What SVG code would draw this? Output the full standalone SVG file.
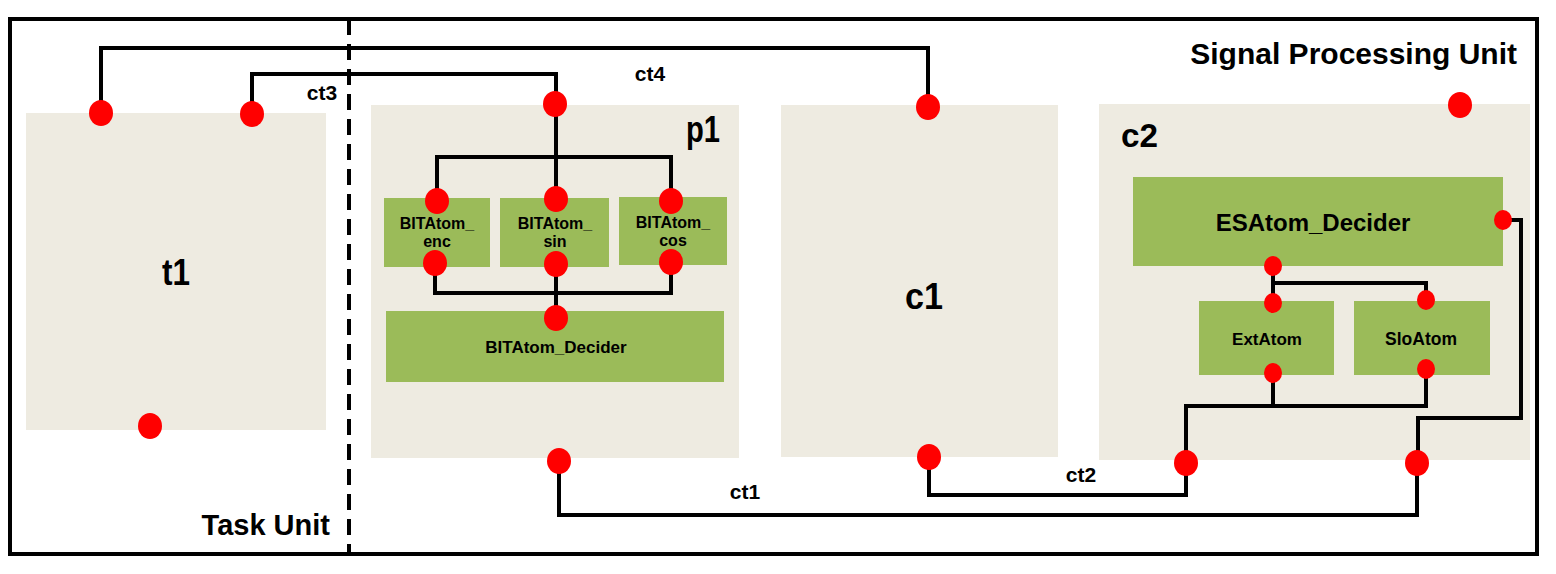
<svg xmlns="http://www.w3.org/2000/svg" width="1556" height="574" viewBox="0 0 1556 574">
<style>
.unit{fill:#EEEBE1}
.atom{fill:#9BBB59}
.port{fill:#FF0000}
.wire{fill:none;stroke:#000;stroke-width:4;stroke-linejoin:miter}
.t{font-family:"Liberation Sans",Arial,sans-serif;font-weight:bold;fill:#000}
.lbl{font-size:21px}
.big{font-size:36px}
.sub{font-size:16px}
</style>
<rect x="0" y="0" width="1556" height="574" fill="#fff"/>
<g id="frame">
<rect x="10" y="19" width="1527" height="535" fill="none" stroke="#000" stroke-width="4"/>
<line x1="349" y1="19" x2="349" y2="554" stroke="#000" stroke-width="4" stroke-dasharray="16,9"/>
<text class="t" x="1517" y="64" font-size="30" text-anchor="end">Signal Processing Unit</text>
<text class="t" x="330" y="535" font-size="29" text-anchor="end">Task Unit</text>
</g>
<g id="t1">
<rect class="unit" x="26" y="113" width="300" height="317"/>
<text class="t big" x="162" y="285" textLength="28" lengthAdjust="spacingAndGlyphs">t1</text>
</g>
<g id="p1">
<rect class="unit" x="371" y="105" width="368" height="353"/>
<text class="t big" x="686" y="142" textLength="34" lengthAdjust="spacingAndGlyphs">p1</text>
<g id="BITAtom_enc">
<rect class="atom" x="384" y="198" width="106" height="69"/>
<text class="t sub" x="437" y="229" text-anchor="middle">BITAtom_</text>
<text class="t sub" x="437" y="247" text-anchor="middle">enc</text>
</g>
<g id="BITAtom_sin">
<rect class="atom" x="500" y="198" width="109" height="69"/>
<text class="t sub" x="555" y="229" text-anchor="middle">BITAtom_</text>
<text class="t sub" x="555" y="247" text-anchor="middle">sin</text>
</g>
<g id="BITAtom_cos">
<rect class="atom" x="619" y="197" width="108" height="68"/>
<text class="t sub" x="673" y="228" text-anchor="middle">BITAtom_</text>
<text class="t sub" x="673" y="246" text-anchor="middle">cos</text>
</g>
<g id="BITAtom_Decider">
<rect class="atom" x="386" y="311" width="338" height="71"/>
<text class="t" x="556" y="353" font-size="17" text-anchor="middle">BITAtom_Decider</text>
</g>
</g>
<g id="c1">
<rect class="unit" x="781" y="105" width="277" height="352"/>
<text class="t big" x="905" y="309" textLength="38" lengthAdjust="spacingAndGlyphs">c1</text>
</g>
<g id="c2">
<rect class="unit" x="1099" y="104" width="431" height="356"/>
<text class="t" x="1121" y="147" font-size="33" textLength="37" lengthAdjust="spacingAndGlyphs">c2</text>
<g id="ESAtom_Decider">
<rect class="atom" x="1133" y="177" width="370" height="89"/>
<text class="t" x="1313" y="231" font-size="24" text-anchor="middle">ESAtom_Decider</text>
</g>
<g id="ExtAtom">
<rect class="atom" x="1199" y="301" width="135" height="74"/>
<text class="t" x="1267" y="345" font-size="17" text-anchor="middle">ExtAtom</text>
</g>
<g id="SloAtom">
<rect class="atom" x="1354" y="301" width="136" height="74"/>
<text class="t" x="1421" y="345" font-size="17.5" text-anchor="middle">SloAtom</text>
</g>
</g>
<g id="connectors">
<polyline class="wire" points="101,113 101,48 928,48 928,107"/>
<polyline class="wire" points="252,114 252,74 556,74 556,104"/>
<polyline class="wire" points="559,461 559,515 1417,515 1417,463"/>
<polyline class="wire" points="929,457 929,495 1186,495 1186,463"/>
<polyline class="wire" points="556,104 556,199"/>
<polyline class="wire" points="437,201 437,157 671,157 671,201"/>
<polyline class="wire" points="435,263 435,293 671,293 671,262"/>
<polyline class="wire" points="556,264 556,318"/>
<polyline class="wire" points="1273,266 1273,303"/>
<polyline class="wire" points="1273,283 1426,283 1426,300"/>
<polyline class="wire" points="1273,373 1273,406"/>
<polyline class="wire" points="1186,463 1186,406 1426,406 1426,369"/>
<polyline class="wire" points="1503,220 1521,220 1521,418 1418,418 1418,463"/>
<text class="t lbl" x="650" y="81" text-anchor="middle">ct4</text>
<text class="t lbl" x="322" y="100" text-anchor="middle">ct3</text>
<text class="t lbl" x="745" y="499" text-anchor="middle">ct1</text>
<text class="t lbl" x="1081" y="482" text-anchor="middle">ct2</text>
</g>
<g id="ports">
<ellipse class="port" cx="101" cy="113" rx="12" ry="13"/>
<ellipse class="port" cx="252" cy="114" rx="12" ry="13"/>
<ellipse class="port" cx="150" cy="426" rx="12" ry="13"/>
<ellipse class="port" cx="555" cy="104" rx="12" ry="13"/>
<ellipse class="port" cx="559" cy="461" rx="12" ry="13"/>
<ellipse class="port" cx="437" cy="201" rx="12" ry="13"/>
<ellipse class="port" cx="435" cy="263" rx="12" ry="13"/>
<ellipse class="port" cx="556" cy="199" rx="12" ry="13"/>
<ellipse class="port" cx="556" cy="264" rx="12" ry="13"/>
<ellipse class="port" cx="671" cy="201" rx="12" ry="13"/>
<ellipse class="port" cx="671" cy="262" rx="12" ry="13"/>
<ellipse class="port" cx="556" cy="318" rx="12" ry="13"/>
<ellipse class="port" cx="928" cy="107" rx="12" ry="13"/>
<ellipse class="port" cx="929" cy="457" rx="12" ry="13"/>
<ellipse class="port" cx="1460" cy="105" rx="12" ry="13"/>
<ellipse class="port" cx="1186" cy="463" rx="12" ry="13"/>
<ellipse class="port" cx="1417" cy="463" rx="12" ry="13"/>
<ellipse class="port" cx="1503" cy="220" rx="9" ry="10"/>
<ellipse class="port" cx="1273" cy="266" rx="9" ry="10"/>
<ellipse class="port" cx="1273" cy="303" rx="9" ry="10"/>
<ellipse class="port" cx="1273" cy="373" rx="9" ry="10"/>
<ellipse class="port" cx="1426" cy="300" rx="9" ry="10"/>
<ellipse class="port" cx="1426" cy="369" rx="9" ry="10"/>
</g>
</svg>
